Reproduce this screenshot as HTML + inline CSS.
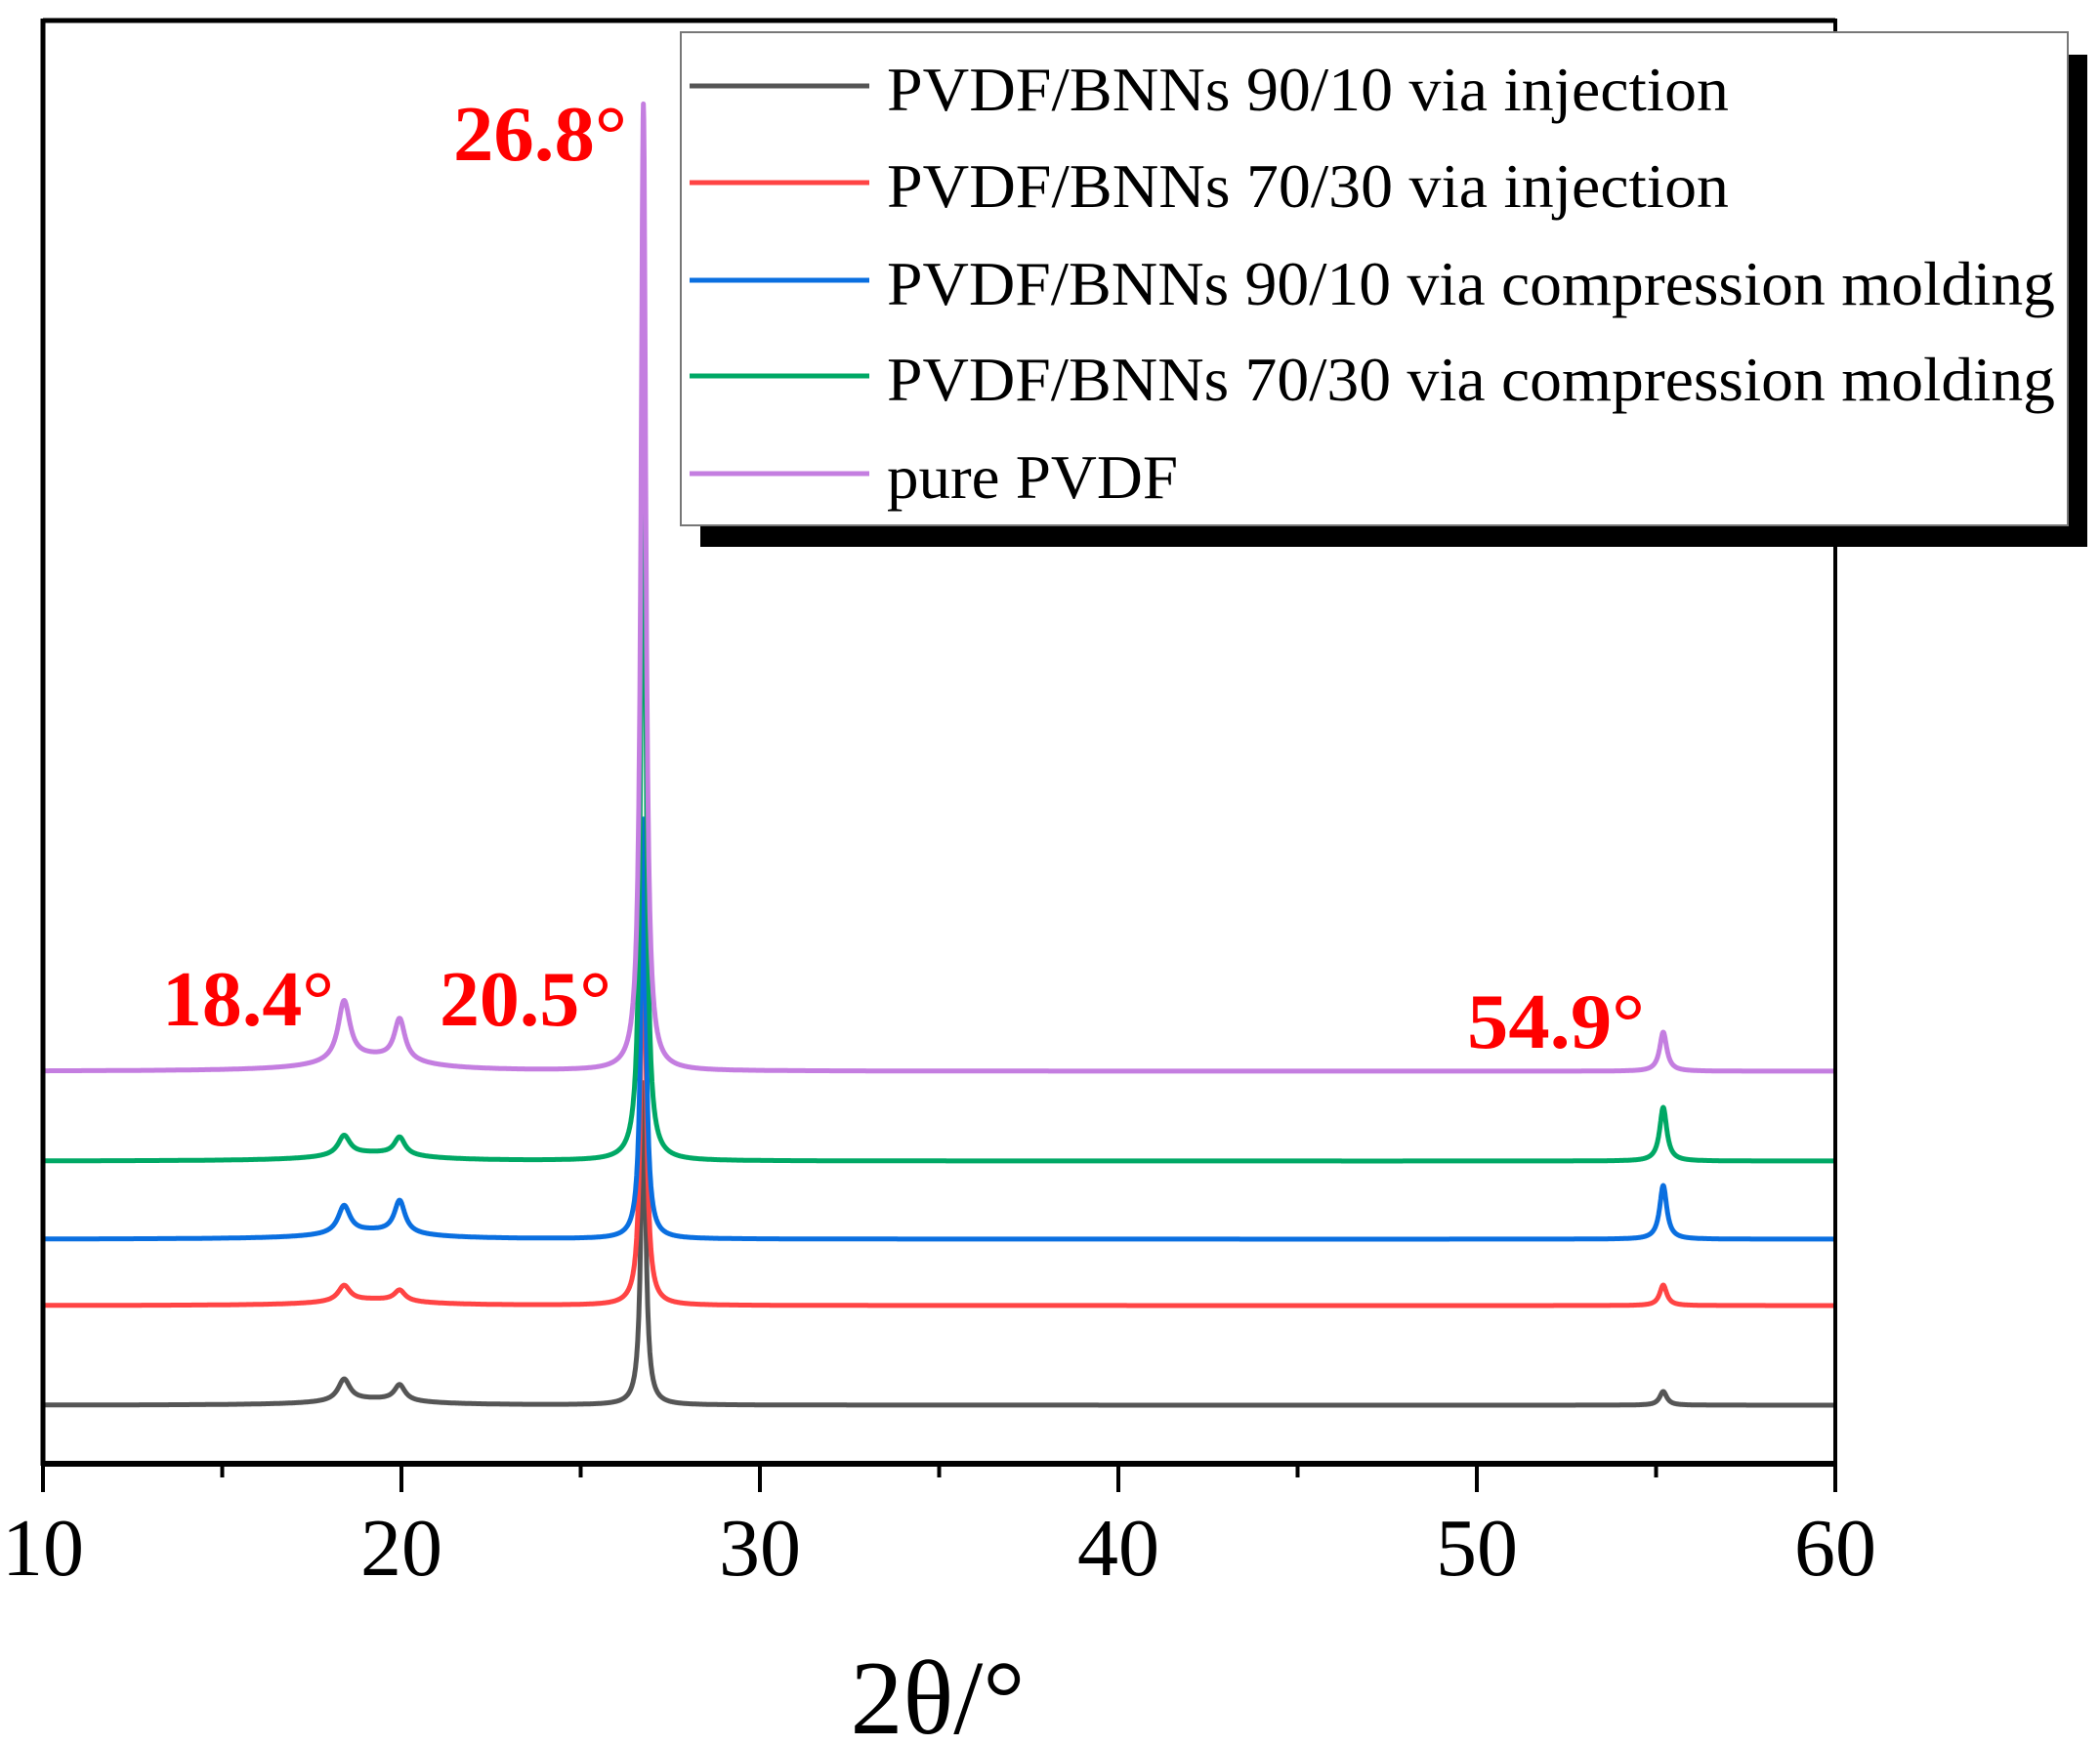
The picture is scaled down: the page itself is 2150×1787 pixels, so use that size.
<!DOCTYPE html>
<html><head><meta charset="utf-8"><style>
html,body{margin:0;padding:0;background:#fff;}
svg{display:block;}
</style></head><body>
<svg id="chart" width="2150" height="1787" viewBox="0 0 2150 1787" xmlns="http://www.w3.org/2000/svg">
<g id="series"></g>
<g id="frame">
<line x1="44" y1="21" x2="1879" y2="21" stroke="#000" stroke-width="5"/>
<line x1="44" y1="19" x2="44" y2="1501" stroke="#000" stroke-width="5"/>
<line x1="1879" y1="19" x2="1879" y2="1501" stroke="#000" stroke-width="4"/>
<line x1="42" y1="1499" x2="1881" y2="1499" stroke="#000" stroke-width="6"/>
</g>
<g id="ticks"></g>
<text x="960" y="1775" font-family="Liberation Serif, serif" font-size="108" text-anchor="middle">2θ/°</text>
<g id="annotations" font-family="Liberation Serif, serif" font-size="80" font-weight="bold" fill="#ff0000">
<text x="464" y="164" textLength="178" lengthAdjust="spacingAndGlyphs">26.8°</text>
<text x="166" y="1050" textLength="176" lengthAdjust="spacingAndGlyphs">18.4°</text>
<text x="450" y="1050" textLength="176" lengthAdjust="spacingAndGlyphs">20.5°</text>
<text x="1502" y="1073" textLength="182" lengthAdjust="spacingAndGlyphs">54.9°</text>
</g>
<g id="legend">
<rect x="717" y="56" width="1420" height="504" fill="#000"/>
<rect x="697" y="33" width="1420" height="505" fill="#fff" stroke="#777" stroke-width="2"/>
</g>
</svg>
<script>
const categories = ["PVDF/BNNs 90/10 via injection","PVDF/BNNs 70/30 via injection","PVDF/BNNs 90/10 via compression molding","PVDF/BNNs 70/30 via compression molding","pure PVDF"];
const colors = ["#555555","#ff4444","#0a6fe0","#00a865","#c47ee0"];
const offsets = [60, 162, 230, 310, 402];
const peakPositions = [18.4, 19.95, 26.75, 55.2];
const peakHeightsBlack = [22, 16, 330, 14];
const peakHeightsRed = [16, 11, 457, 21];
const peakHeightsBlue = [28, 33, 430, 55];
const peakHeightsGreen = [20, 18, 813, 55];
const peakHeightsPurple = [61, 42, 990, 40];
const peakWidths = [0.2, 0.18, 0.08, 0.12];
const humpHeights = [6, 6, 8, 8, 14];
const xTicks = [10, 20, 30, 40, 50, 60];
const xMinorTicks = [15, 25, 35, 45, 55];

const NS = "http://www.w3.org/2000/svg";
const X0 = 44, X1 = 1879, XMIN = 10, XMAX = 60;
const Y0 = 1499;
function xs(v){ return X0 + (v - XMIN) / (XMAX - XMIN) * (X1 - X0); }
function ys(v){ return Y0 - v; }

const heights = [peakHeightsBlack, peakHeightsRed, peakHeightsBlue, peakHeightsGreen, peakHeightsPurple];
const seriesG = document.getElementById('series');
for (let s = 0; s < categories.length; s++) {
  let d = "";
  for (let i = 0; i <= 5000; i++) {
    const x = XMIN + (XMAX - XMIN) * i / 5000;
    let v = offsets[s];
    for (let p = 0; p < peakPositions.length; p++) {
      const g = peakWidths[p];
      const dx = x - peakPositions[p];
      v += heights[s][p] * g * g / (dx * dx + g * g);
    }
    const dh = x - 19.2;
    v += humpHeights[s] * 1.5 * 1.5 / (dh * dh + 1.5 * 1.5);
    d += (i ? "L" : "M") + xs(x).toFixed(1) + " " + ys(v).toFixed(1);
  }
  const path = document.createElementNS(NS, 'path');
  path.setAttribute('d', d);
  path.setAttribute('fill', 'none');
  path.setAttribute('stroke', colors[s]);
  path.setAttribute('stroke-width', '5');
  path.setAttribute('stroke-linejoin', 'round');
  
  
  seriesG.appendChild(path);
}

const ticksG = document.getElementById('ticks');
xTicks.forEach(t => {
  const l = document.createElementNS(NS, 'line');
  l.setAttribute('x1', xs(t)); l.setAttribute('x2', xs(t));
  l.setAttribute('y1', Y0); l.setAttribute('y2', Y0 + 29);
  l.setAttribute('stroke', '#000'); l.setAttribute('stroke-width', '4');
  
  
  ticksG.appendChild(l);
  const tx = document.createElementNS(NS, 'text');
  tx.setAttribute('x', xs(t)); tx.setAttribute('y', 1613);
  tx.setAttribute('text-anchor', 'middle');
  tx.setAttribute('font-family', 'Liberation Serif, serif');
  tx.setAttribute('font-size', '84');
  tx.textContent = t;
  
  
  ticksG.appendChild(tx);
});
xMinorTicks.forEach(t => {
  const l = document.createElementNS(NS, 'line');
  l.setAttribute('x1', xs(t)); l.setAttribute('x2', xs(t));
  l.setAttribute('y1', Y0); l.setAttribute('y2', Y0 + 14);
  l.setAttribute('stroke', '#000'); l.setAttribute('stroke-width', '4');
  
  
  ticksG.appendChild(l);
});

const legendG = document.getElementById('legend');
const rowY = [88, 187, 287, 385, 485];
const textLens = [862, 862, 1196, 1196, 298];
categories.forEach((c, i) => {
  const l = document.createElementNS(NS, 'line');
  l.setAttribute('x1', 706); l.setAttribute('x2', 890);
  l.setAttribute('y1', rowY[i]); l.setAttribute('y2', rowY[i]);
  l.setAttribute('stroke', colors[i]); l.setAttribute('stroke-width', '5');
  
  
  legendG.appendChild(l);
  const tx = document.createElementNS(NS, 'text');
  tx.setAttribute('x', 908); tx.setAttribute('y', rowY[i] + 25);
  tx.setAttribute('font-family', 'Liberation Serif, serif');
  tx.setAttribute('font-size', '64');
  tx.setAttribute('textLength', textLens[i]);
  tx.setAttribute('lengthAdjust', 'spacingAndGlyphs');
  tx.textContent = c;
  
  
  legendG.appendChild(tx);
});
</script>
</body></html>
